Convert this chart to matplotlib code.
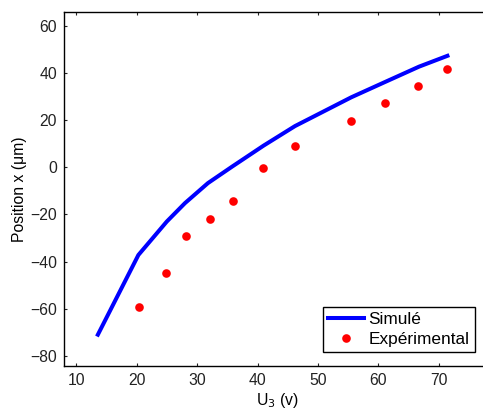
import matplotlib
matplotlib.use("Agg")
import matplotlib.pyplot as plt

plt.rcParams["font.family"] = ["Liberation Sans", "DejaVu Sans"]

# simulated curve
sim_u = [13.6, 20.3, 25.0, 28.0, 31.8, 35.8, 41.0, 46.2, 55.5, 61.0, 66.7, 71.4]
sim_x = [-71.0, -37.2, -23.0, -15.2, -6.7, 0.3, 9.2, 17.5, 29.7, 36.1, 42.7, 47.3]

# experimental points
exp_u = [20.4, 24.9, 28.1, 32.2, 35.9, 40.9, 46.2, 55.5, 61.0, 66.6, 71.3]
exp_x = [-59.2, -44.7, -29.1, -22.0, -14.5, -0.1, 8.9, 19.8, 27.2, 34.5, 41.8]

xticks = [10, 20, 30, 40, 50, 60, 70]
yticks = [-80, -60, -40, -20, 0, 20, 40, 60]

fig = plt.figure(figsize=(4.83, 4.09), dpi=100)
ax = fig.add_axes([0.1325, 0.1051, 0.884, 0.8656])

ax.plot(sim_u, sim_x, color="#0000ff", lw=2.9, label="Simulé")
ax.plot(exp_u, exp_x, "o", color="#ff0000", ms=6.2, mec="none", label="Expérimental")

ax.set_xlim(8, 78.6)
ax.set_ylim(-84.3, 65.9)
ax.set_xticks(xticks)
ax.set_yticks(yticks)
ax.set_yticklabels([str(v).replace("-", "\u2212") for v in yticks])
ax.tick_params(direction="in", length=2.5, width=0.8, top=True, right=True,
               labelsize=11.3, pad=5, colors="#222222")
for s in ax.spines.values():
    s.set_linewidth(1.0)

ax.set_xlabel("U$_3$ (v)", fontsize=11.3, labelpad=2.5)
ax.set_ylabel("Position x (\u03bcm)", fontsize=11.3, labelpad=2)

leg = ax.legend(loc="lower right", bbox_to_anchor=(0.962, 0.0387),
                borderaxespad=0, fontsize=12.4, fancybox=False,
                edgecolor="black", framealpha=1, handlelength=2.1,
                handletextpad=0.25, borderpad=0.3, labelspacing=0.3)
leg.get_frame().set_linewidth(1.0)

fig.savefig("out.png", dpi=100, facecolor="white")
